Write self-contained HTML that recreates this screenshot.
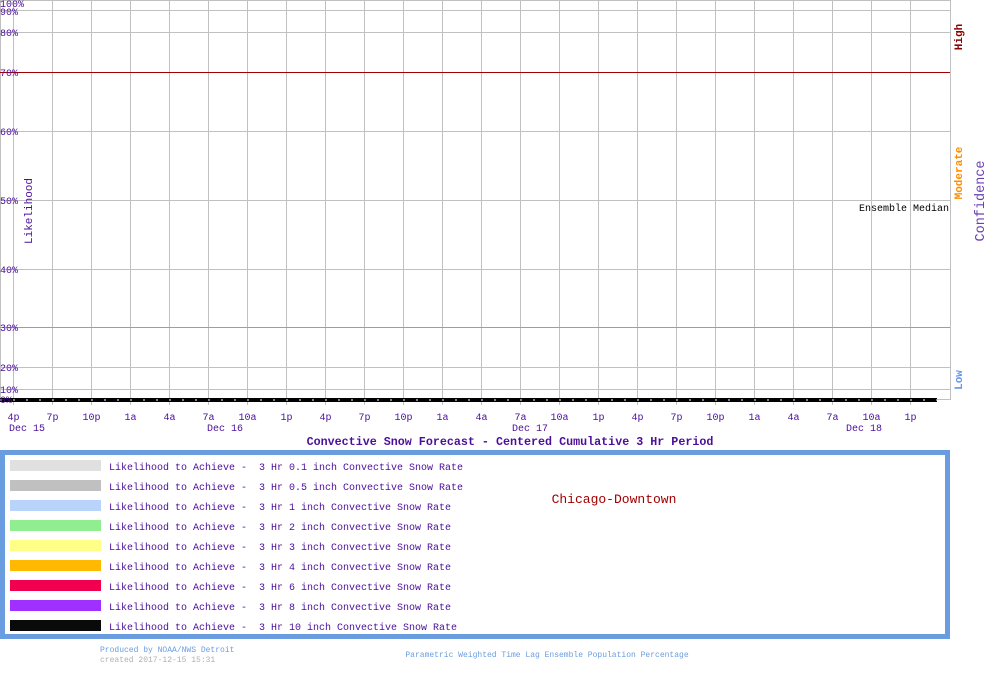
<!DOCTYPE html>
<html><head><style>
body{margin:0;background:#fff;width:1000px;height:670px;overflow:hidden}
svg text{font-family:"Liberation Mono","DejaVu Sans Mono",monospace}
</style></head><body>
<svg width="1000" height="670" viewBox="0 0 1000 670" xmlns="http://www.w3.org/2000/svg">
<g stroke="#c0c0c0" stroke-width="1">
<line x1="0.5" y1="0" x2="0.5" y2="400"/>
<line x1="950.5" y1="0" x2="950.5" y2="400"/>
<line x1="0" y1="0.5" x2="950" y2="0.5"/>
<line x1="0" y1="10.5" x2="950" y2="10.5"/>
<line x1="0" y1="32.5" x2="950" y2="32.5"/>
<line x1="0" y1="131.5" x2="950" y2="131.5"/>
<line x1="0" y1="200.5" x2="950" y2="200.5"/>
<line x1="0" y1="269.5" x2="950" y2="269.5"/>
<line x1="0" y1="367.5" x2="950" y2="367.5"/>
<line x1="0" y1="389.5" x2="950" y2="389.5"/>
<line x1="0" y1="399.5" x2="950" y2="399.5"/>
</g>
<g stroke="#c0c0c0" stroke-width="1" id="vg"></g>
<line x1="0" y1="72.5" x2="950" y2="72.5" stroke="#a00000" stroke-width="1"/>
<line x1="0" y1="327.5" x2="950" y2="327.5" stroke="#ff8c00" stroke-width="1"/>
<rect x="0" y="398" width="937" height="4" fill="#000"/>
<line x1="0" y1="400" x2="937" y2="400" stroke="#fff" stroke-width="1" stroke-dasharray="2 11"/>
<g fill="#4b0f99" font-size="10" id="yl">
<text x="0" y="7">100%</text><text x="0" y="15">90%</text><text x="0" y="36">80%</text>
<text x="0" y="76">70%</text><text x="0" y="135">60%</text><text x="0" y="204">50%</text>
<text x="0" y="273">40%</text><text x="0" y="331">30%</text><text x="0" y="371">20%</text>
<text x="0" y="393">10%</text><text x="0" y="403">0%</text>
</g>
<text transform="translate(32,211) rotate(-90)" text-anchor="middle" fill="#4b0f99" font-size="11">Likelihood</text>
<text transform="translate(962,37) rotate(-90)" text-anchor="middle" fill="#8b0000" font-size="11" font-weight="bold">High</text>
<text transform="translate(962,173) rotate(-90)" text-anchor="middle" fill="#ff8c00" font-size="11" font-weight="bold">Moderate</text>
<text transform="translate(962,380) rotate(-90)" text-anchor="middle" fill="#6495ed" font-size="11" font-weight="bold">Low</text>
<text transform="translate(984,201) rotate(-90)" text-anchor="middle" fill="#6a3fb0" font-size="13.5">Confidence</text>
<text x="949" y="211" text-anchor="end" fill="#000" font-size="10">Ensemble Median</text>
<g fill="#4b0f99" font-size="10" text-anchor="middle" id="xl"></g>
<g fill="#4b0f99" font-size="10" text-anchor="middle">
<text x="27" y="431">Dec 15</text><text x="225" y="431">Dec 16</text>
<text x="530" y="431">Dec 17</text><text x="864" y="431">Dec 18</text>
</g>
<text x="510" y="445" text-anchor="middle" fill="#4b0f99" font-size="11.7" font-weight="bold">Convective Snow Forecast - Centered Cumulative 3 Hr Period</text>
<rect x="2.5" y="452.5" width="945" height="184" fill="none" stroke="#6a9de0" stroke-width="5"/>
<g id="leg" font-size="10" fill="#4b0f99"></g>
<text x="614" y="503" text-anchor="middle" fill="#a00000" font-size="13">Chicago-Downtown</text>
<text x="100" y="652" fill="#6a9de0" font-size="8">Produced by NOAA/NWS Detroit</text>
<text x="100" y="662" fill="#b0b0b0" font-size="8">created 2017-12-15 15:31</text>
<text x="547" y="657" text-anchor="middle" fill="#6a9de0" font-size="8">Parametric Weighted Time Lag Ensemble Population Percentage</text>
</svg>
<script>
var ns="http://www.w3.org/2000/svg";
var vg=document.getElementById("vg"),xl=document.getElementById("xl"),leg=document.getElementById("leg");
var labs=["4p","7p","10p","1a","4a","7a","10a","1p"];
for(var k=0;k<24;k++){var x=13+39*k+0.5;
var l=document.createElementNS(ns,"line");l.setAttribute("x1",x);l.setAttribute("x2",x);l.setAttribute("y1",0);l.setAttribute("y2",405);vg.appendChild(l);
var t=document.createElementNS(ns,"text");t.setAttribute("x",x);t.setAttribute("y",420);t.textContent=labs[k%8];xl.appendChild(t);}
var cols=["#e0e0e0","#c0c0c0","#b8d4fa","#90ee90","#ffff88","#ffb900","#f0004f","#a030ff","#0a0a0a"];
var sz=["0.1","0.5","1","2","3","4","6","8","10"];
for(var i=0;i<9;i++){var y=460+20*i;
var r=document.createElementNS(ns,"rect");r.setAttribute("x",10);r.setAttribute("y",y);r.setAttribute("width",91);r.setAttribute("height",11);r.setAttribute("fill",cols[i]);leg.appendChild(r);
var t=document.createElementNS(ns,"text");t.setAttribute("x",109);t.setAttribute("y",y+10);t.style.whiteSpace="pre";
t.textContent="Likelihood to Achieve -  3 Hr "+sz[i]+" inch Convective Snow Rate";leg.appendChild(t);}
</script>
</body></html>
